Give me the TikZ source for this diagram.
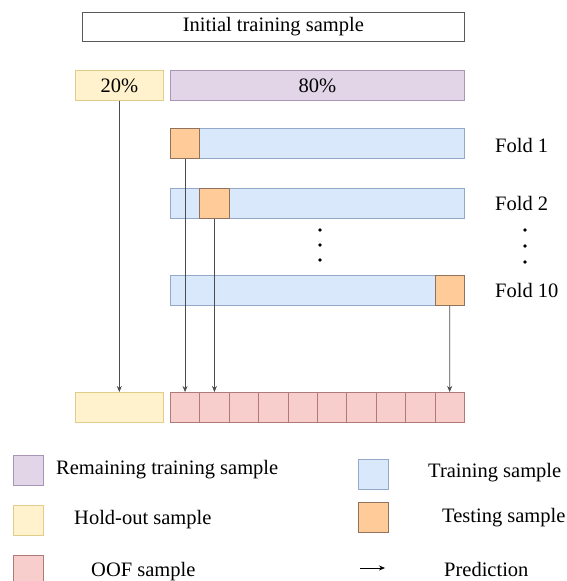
\documentclass[tikz,border=0pt]{standalone}
\usepackage{fontspec}
\setmainfont{Liberation Serif}
\usetikzlibrary{positioning,arrows.meta}

\definecolor{holdfill}{HTML}{FFF2CC}
\definecolor{holddraw}{HTML}{E2CC8A}
\definecolor{restfill}{HTML}{E1D5E7}
\definecolor{restdraw}{HTML}{A996B6}
\definecolor{trainfill}{HTML}{DAE8FC}
\definecolor{traindraw}{HTML}{94A9C8}
\definecolor{testfill}{HTML}{FFCC99}
\definecolor{testdraw}{HTML}{8F735C}
\definecolor{ooffill}{HTML}{F8CECC}
\definecolor{oofdraw}{HTML}{B07A78}

\begin{document}
\begin{tikzpicture}[x=1pt, y=-1pt, font=\fontsize{20.5}{24}\selectfont]
    \tikzstyle{bar} = [rectangle, draw, line width=0.7pt, minimum height=30pt, inner sep=0pt, anchor=north west]
    \tikzstyle{hold} = [bar, fill=holdfill, draw=holddraw]
    \tikzstyle{rest} = [bar, fill=restfill, draw=restdraw]
    \tikzstyle{train} = [bar, fill=trainfill, draw=traindraw, minimum width=294pt]
    \tikzstyle{test} = [bar, fill=testfill, draw=testdraw, minimum width=29.4pt]
    \tikzstyle{oof} = [bar, fill=ooffill, draw=oofdraw, minimum width=29.4pt]
    \tikzstyle{key} = [bar, minimum width=30pt]
    \tikzstyle{lbl} = [inner sep=0pt, anchor=west]
    \tikzstyle{arrow} = [line width=0.7pt, draw=black!70, -{Stealth[length=6pt, width=5pt]}]

    \useasboundingbox (0,0) rectangle (566,581);

    % Initial split
    \node [bar, draw=black!65, minimum width=382pt, minimum height=29pt] (init) at (82,12) {};
    \node at (init.center) {Initial training sample};
    \node [hold, minimum width=88pt] (hold) at (75,70) {};
    \node at (hold.center) {20\%};
    \node [rest, minimum width=294pt] (rest) at (170,70) {};
    \node at (rest.center) {80\%};

    % Folds
    \node [train] (f1) at (170,128) {};
    \node [test] (t1) at (170,128) {};
    \node [train] (f2) at (170,188) {};
    \node [test] (t2) at (199.4,188) {};
    \node [train] (f10) at (170,275) {};
    \node [test] (t10) at (434.6,275) {};

    \node [lbl] (l1) at (495,145) {Fold 1};
    \node [lbl] (l2) at (495,203) {Fold 2};
    \node [lbl] (l10) at (495,290) {Fold 10};

    \foreach \y in {230,245,260} \fill (320,\y) circle (1.8);
    \foreach \y in {230,246,262} \fill (525,\y) circle (1.8);

    % Out-of-fold predictions
    \node [hold, minimum width=88pt] (hout) at (75,392) {};
    \foreach \i in {1,...,10}
        \node [oof] (o\i) at ({170+29.4*(\i-1)},392) {};

    \draw [arrow] (hold.south) -- (hout.north);
    \draw [arrow] (t1.south) -- (o1.north);
    \draw [arrow] (t2.south) -- (o2.north);
    \draw [arrow] (t10.south) -- (o10.north);

    % Legend
    \node [key, fill=restfill, draw=restdraw] (k1) at (13,455) {};
    \node [lbl] at (56,470) {Remaining training sample};
    \node [key, fill=holdfill, draw=holddraw] (k2) at (13,505) {};
    \node [lbl] at (74,520) {Hold-out sample};
    \node [key, fill=ooffill, draw=oofdraw] (k3) at (13,555) {};
    \node [lbl] at (91,572) {OOF sample};

    \node [key, fill=trainfill, draw=traindraw] (k4) at (358,459) {};
    \node [lbl] at (428,473) {Training sample};
    \node [key, fill=testfill, draw=testdraw] (k5) at (358,502) {};
    \node [lbl] at (442,518) {Testing sample};
    \coordinate (pa) at (360,568);
    \coordinate (pb) at (385,568);
    \draw [-{Stealth[length=6pt, width=5pt]}, line width=0.7pt] (pa) -- (pb);
    \node [lbl] at (444,569) {Prediction};
\end{tikzpicture}
\end{document}
